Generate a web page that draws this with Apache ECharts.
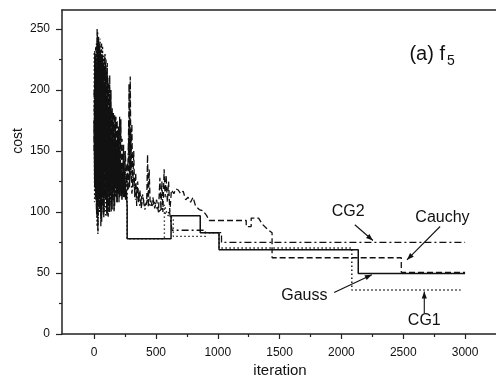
<!DOCTYPE html>
<html><head><meta charset="utf-8">
<script src="https://cdn.jsdelivr.net/npm/echarts@6/dist/echarts.min.js"></script>
<style>html,body{margin:0;padding:0;background:#fff}#c{width:496px;height:379px}</style>
</head><body><div id="c"></div>
<script>
// tick labels
const xMajor = [0, 500, 1000, 1500, 2000, 2500, 3000];
const xMinor = [250, 750, 1250, 1750, 2250, 2750];
const yMajor = [0, 50, 100, 150, 200, 250];
const yMinor = [25, 75, 125, 175, 225];

// series [iteration, cost]
const gauss = [[0,175],[5,120],[10,228],[15,110],[20,200],[25,95],[30,240],[35,105],[40,215],[45,130],[50,232],[55,100],[60,190],[65,120],[70,225],[75,98],[80,205],[85,135],[90,222],[95,110],[100,180],[105,97],[110,210],[115,125],[120,170],[125,100],[130,195],[135,118],[140,160],[145,102],[150,178],[155,128],[160,150],[165,105],[170,176],[175,120],[180,140],[185,108],[190,165],[195,115],[200,150],[205,112],[210,140],[215,118],[220,135],[225,110],[230,128],[235,115],[240,150],[245,112],[250,125],[255,110],[260,118],[267,104],[267,78],[622,78],[622,97],[858,97],[858,83],[1010,83],[1010,69],[2136,69],[2136,49.5],[3000,49.5]];

const cg1 = [[0,230],[4,108],[9,225],[14,115],[19,238],[24,88],[28,248],[33,92],[38,235],[43,110],[48,242],[53,96],[58,230],[63,118],[68,236],[73,100],[78,228],[83,125],[88,230],[93,96],[98,218],[103,115],[108,212],[113,100],[118,205],[123,130],[128,190],[133,108],[138,182],[143,122],[148,178],[153,110],[158,172],[163,135],[168,160],[173,112],[178,150],[183,125],[188,145],[193,115],[198,138],[203,120],[208,148],[213,118],[218,135],[223,122],[228,140],[233,115],[238,130],[245,118],[252,135],[259,120],[267,130],[267,78],[568,78],[568,106],[590,98],[610,96],[640,95],[640,80],[900,80],[900,83],[1010,83],[1010,70.5],[2084,70.5],[2084,36],[2963,36]];

const cg2 = [[0,200],[6,130],[12,235],[18,102],[24,250],[30,82],[36,244],[42,100],[48,225],[54,88],[60,238],[66,105],[72,220],[78,95],[84,215],[90,110],[96,225],[102,98],[108,200],[114,96],[120,180],[126,105],[132,178],[138,100],[144,160],[150,110],[156,175],[162,102],[168,155],[174,115],[180,160],[186,108],[192,150],[198,120],[204,140],[210,112],[216,130],[222,118],[228,125],[236,112],[244,135],[252,115],[260,128],[270,118],[280,175],[287,120],[295,165],[305,115],[320,128],[335,110],[350,120],[370,105],[390,115],[410,102],[430,110],[460,104],[490,108],[520,100],[550,103],[580,98],[610,100],[630,85],[900,85],[900,83],[1030,83],[1030,75],[3000,75]];

const cauchy = [[0,150],[5,232],[10,112],[15,220],[20,98],[26,245],[31,84],[36,240],[41,115],[46,238],[51,102],[56,228],[61,92],[66,230],[71,115],[76,222],[81,100],[86,228],[91,120],[96,215],[101,100],[106,222],[111,118],[116,205],[121,104],[126,212],[131,125],[136,200],[141,110],[146,185],[151,118],[156,182],[161,100],[166,180],[171,125],[176,178],[181,112],[186,175],[191,120],[196,170],[201,108],[206,178],[211,125],[216,176],[221,112],[226,160],[231,125],[238,155],[245,118],[252,150],[260,125],[268,140],[276,118],[282,205],[288,125],[292,211],[298,130],[305,172],[312,120],[320,150],[328,112],[336,132],[344,105],[352,125],[360,108],[370,118],[380,103],[395,112],[410,105],[425,108],[432,147],[438,104],[445,135],[452,110],[462,105],[475,112],[490,103],[505,110],[520,100],[532,128],[540,102],[548,125],[556,100],[566,135],[574,112],[582,130],[592,108],[602,125],[612,100],[625,118],[645,115],[660,119],[680,118],[700,115],[720,117],[740,110],[760,112],[780,108],[800,112],[820,105],[850,102],[880,101],[910,97],[930,93],[1230,93],[1230,88],[1270,88],[1270,95],[1330,95],[1360,90],[1400,86],[1439,83],[1439,62.5],[2484,62.5],[2484,50.5],[3000,50.5]];

// annotations: label, text centre [iter, cost], arrow from, arrow to
const notes = [
  {text: 'CG2',    at: [2054, 100.4], from: [2108, 89.5], to: [2255, 76.6]},
  {text: 'Cauchy', at: [2817, 95],    from: [2798, 88.1], to: [2530, 60.8]},
  {text: 'Gauss',  at: [1700, 31.6],  from: [1941, 34],   to: [2246, 48.6]},
  {text: 'CG1',    at: [2670, 11.1],  from: [2670, 16.6], to: [2670, 34.9]}
];

const FONT = 'Liberation Sans, Arial, sans-serif';
const INK = '#111';
const axisLine = {show: true, onZero: false, lineStyle: {color: '#222', width: 1.5}};
const fmt = (v) => String(v);

const chart = echarts.init(document.getElementById('c'), null, {renderer: 'canvas'});
function ln(name, data, type, width) {
  return {name, type: 'line', data, xAxisIndex: 0, yAxisIndex: 0, showSymbol: false, symbol: 'none',
    lineStyle: {color: INK, width: width, type: type}, animation: false, z: 3};
}
chart.setOption({
  animation: false,
  grid: {left: 62, top: 10, bottom: 45, right: -3, containLabel: false},
  xAxis: [
    {type: 'value', min: -260, max: 3250, position: 'bottom', axisLine,
     axisTick: {show: true, customValues: xMajor, length: 5, lineStyle: {color: '#222', width: 1.2}},
     axisLabel: {customValues: xMajor, formatter: fmt, margin: 13, fontSize: 12, color: INK, fontFamily: FONT},
     splitLine: {show: false}},
    {type: 'value', min: -260, max: 3250, position: 'bottom', axisLine: {show: false, onZero: false},
     axisTick: {show: true, customValues: xMinor, length: 3, lineStyle: {color: '#222', width: 1.2}},
     axisLabel: {show: false}, splitLine: {show: false}},
    {type: 'value', min: -260, max: 3250, position: 'top', axisLine,
     axisTick: {show: false}, axisLabel: {show: false}, splitLine: {show: false}}
  ],
  yAxis: [
    {type: 'value', min: 0, max: 265.5, position: 'left', axisLine,
     axisTick: {show: true, customValues: yMajor, length: 6, lineStyle: {color: '#222', width: 1.2}},
     axisLabel: {customValues: yMajor, formatter: fmt, margin: 12, fontSize: 12, color: INK, fontFamily: FONT},
     splitLine: {show: false}},
    {type: 'value', min: 0, max: 265.5, position: 'left', axisLine: {show: false, onZero: false},
     axisTick: {show: true, customValues: yMinor, length: 3, lineStyle: {color: '#222', width: 1.2}},
     axisLabel: {show: false}, splitLine: {show: false}}
  ],
  series: [
    ln('CG2', cg2, [7, 3, 2, 3], 1.3),
    ln('Cauchy', cauchy, [6, 3], 1.3),
    ln('CG1', cg1, [1.4, 2.6], 1.4),
    ln('Gauss', gauss, 'solid', 1.5)
  ]
});

// annotations positioned from data coordinates
const g = [];
const P = (v) => chart.convertToPixel({xAxisIndex: 0, yAxisIndex: 0}, v);
notes.forEach(n => {
  const c = P(n.at), a = P(n.from), b = P(n.to);
  g.push({type: 'text', x: c[0], y: c[1], style: {text: n.text, font: '16px ' + FONT, fill: INK, align: 'center', verticalAlign: 'middle'}});
  g.push({type: 'line', shape: {x1: a[0], y1: a[1], x2: b[0], y2: b[1]}, style: {stroke: INK, lineWidth: 1.1}});
  const ang = Math.atan2(b[1] - a[1], b[0] - a[0]);
  const L = 7, W = 2.6;
  const bx = b[0] - L * Math.cos(ang), by = b[1] - L * Math.sin(ang);
  g.push({type: 'polygon', shape: {points: [[b[0], b[1]], [bx + W * Math.sin(ang), by - W * Math.cos(ang)], [bx - W * Math.sin(ang), by + W * Math.cos(ang)]]}, style: {fill: INK}});
});
const t = P([2550, 229]);
g.push({type: 'text', x: t[0], y: t[1], style: {
  text: '(a) f{s|5}', font: '20px ' + FONT, fill: INK, verticalAlign: 'middle',
  rich: {s: {fontSize: 14, fontFamily: FONT, fill: INK, padding: [14, 0, 0, 2]}}}});
g.push({type: 'text', x: 18, y: 141, rotation: Math.PI / 2, style: {text: 'cost', font: '14px ' + FONT, fill: INK, align: 'center', verticalAlign: 'middle'}});
g.push({type: 'text', x: 280, y: 371, style: {text: 'iteration', font: '15px ' + FONT, fill: INK, align: 'center', verticalAlign: 'middle'}});
chart.setOption({graphic: g});
</script></body></html>
